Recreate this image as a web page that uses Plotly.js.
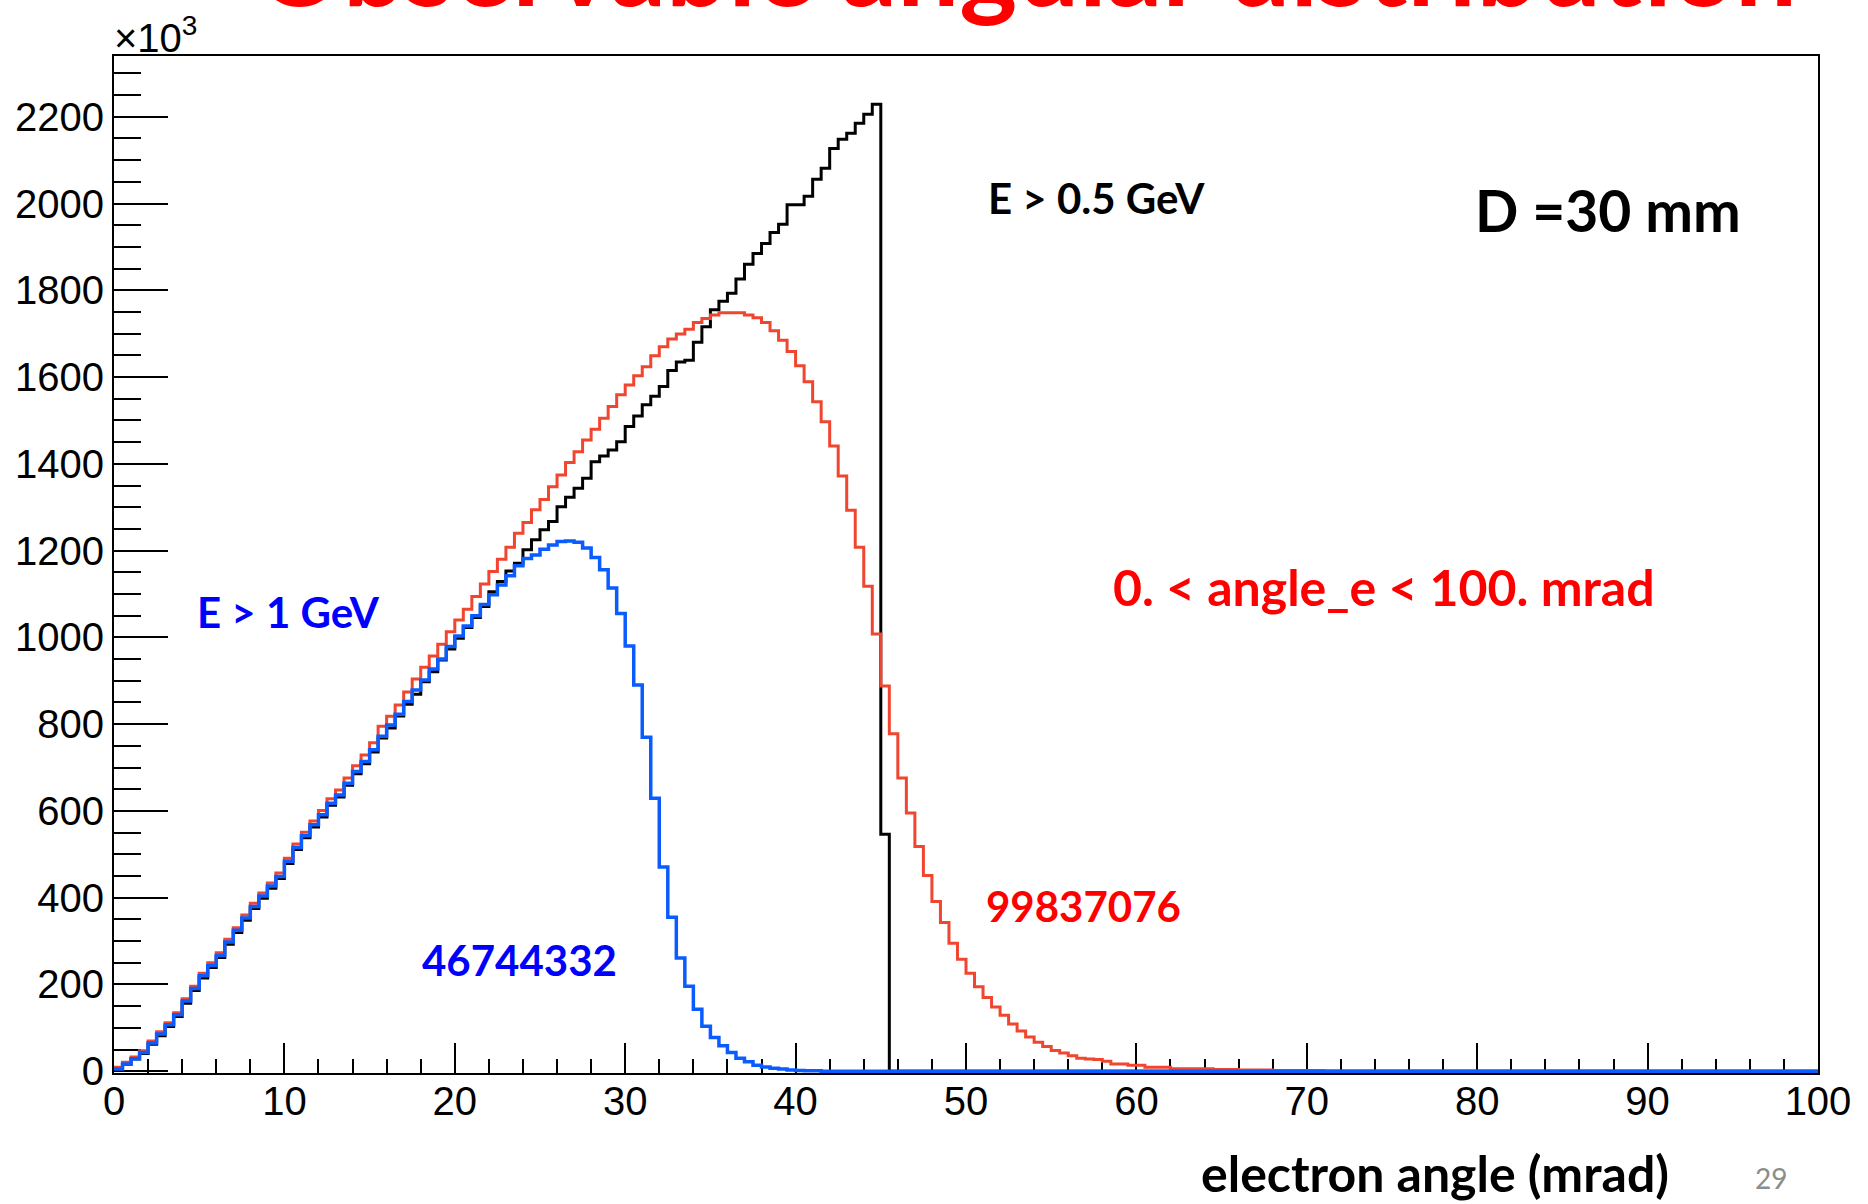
<!DOCTYPE html>
<html>
<head>
<meta charset="utf-8">
<script src="https://cdn.plot.ly/plotly-3.0.1.min.js"></script>
<style>
html,body{margin:0;padding:0;background:#fff;}
#chart{width:1868px;height:1204px;}
</style>
</head>
<body>
<div id="chart"></div>
<script>
// Histogram: 200 bins of 0.5 mrad from 0 to 100 mrad; counts in units of 10^3
const binWidth = 0.5;
const xMin = 0;

// E > 0.5 GeV (black)
const countsE05 = [
5,16,28,41,62,82,103,126,157,186,
215,239,262,293,320,348,375,399,422,444,
479,511,538,563,586,613,632,659,686,709,
736,768,791,819,846,869,898,921,948,973,
998,1023,1046,1071,1105,1129,1153,1171,1202,1225,
1248,1267,1301,1323,1344,1367,1405,1418,1432,1451,
1486,1510,1536,1556,1578,1615,1635,1639,1680,1716,
1755,1775,1793,1826,1860,1885,1908,1933,1952,1997,
1997,2017,2056,2081,2127,2148,2162,2185,2206,2229,
546,0,0,0,0,0,0,0,0,0,
0,0,0,0,0,0,0,0,0,0,
0,0,0,0,0,0,0,0,0,0,
0,0,0,0,0,0,0,0,0,0,
0,0,0,0,0,0,0,0,0,0,
0,0,0,0,0,0,0,0,0,0,
0,0,0,0,0,0,0,0,0,0,
0,0,0,0,0,0,0,0,0,0,
0,0,0,0,0,0,0,0,0,0,
0,0,0,0,0,0,0,0,0,0,
0,0,0,0,0,0,0,0,0,0
];

// 0 < angle_e < 100 mrad (red)
const countsAll = [
9,21,33,47,70,91,112,135,167,196,
226,250,273,304,331,360,387,411,434,457,
491,524,551,577,601,628,648,676,704,729,
757,795,818,844,874,904,931,957,984,1013,
1040,1065,1094,1123,1152,1180,1208,1240,1265,1294,
1318,1347,1374,1403,1428,1455,1480,1505,1532,1559,
1582,1603,1624,1649,1670,1688,1699,1710,1726,1735,
1743,1748,1748,1748,1743,1737,1726,1707,1685,1659,
1626,1589,1543,1497,1441,1372,1293,1208,1118,1008,
888,778,676,595,518,451,391,343,295,258,
226,195,170,148,129,109,93,79,67,57,
48,42,36,30,28,27,23,17,17,14,
14,9,9,9,6,6,6,6,6,4,
4,4,3,3,3,3,2,2,2,2,
2,2,0,0,0,0,0,0,0,0,
0,0,0,0,0,0,0,0,0,0,
0,0,0,0,0,0,0,0,0,0,
0,0,0,0,0,0,0,0,0,0,
0,0,0,0,0,0,0,0,0,0,
0,0,0,0,0,0,0,0,0,0
];

// E > 1 GeV (blue)
const countsE1 = [
5,17,29,43,65,86,107,130,162,191,
220,244,267,298,325,353,380,404,427,449,
484,516,543,568,591,618,637,664,691,714,
741,772,798,823,852,879,902,927,950,979,
1003,1026,1050,1076,1098,1121,1142,1165,1182,1190,
1203,1213,1221,1222,1219,1206,1184,1156,1114,1055,
980,890,770,629,471,355,261,196,143,104,
78,59,43,30,22,14,10,7,5,3,
2,1,1,0,0,0,0,0,0,0,
0,0,0,0,0,0,0,0,0,0,
0,0,0,0,0,0,0,0,0,0,
0,0,0,0,0,0,0,0,0,0,
0,0,0,0,0,0,0,0,0,0,
0,0,0,0,0,0,0,0,0,0,
0,0,0,0,0,0,0,0,0,0,
0,0,0,0,0,0,0,0,0,0,
0,0,0,0,0,0,0,0,0,0,
0,0,0,0,0,0,0,0,0,0,
0,0,0,0,0,0,0,0,0,0,
0,0,0,0,0,0,0,0,0,0
];

const xTickVals = [0,10,20,30,40,50,60,70,80,90,100];
const xTickText = ["0","10","20","30","40","50","60","70","80","90","100"];
const yTickVals = [0,200,400,600,800,1000,1200,1400,1600,1800,2000,2200];
const yTickText = ["0","200","400","600","800","1000","1200","1400","1600","1800","2000","2200"];

function stepTrace(counts, color, width, name) {
  const xs = [], ys = [];
  for (let i = 0; i < counts.length; i++) { xs.push(xMin + i * binWidth); ys.push(counts[i]); }
  xs.push(xMin + counts.length * binWidth); ys.push(counts[counts.length - 1]);
  return {type:'scatter', mode:'lines', x:xs, y:ys, name:name,
          line:{shape:'hv', color:color, width:width}, hoverinfo:'skip'};
}

const data = [
  stepTrace(countsE05, '#000000', 3, 'E > 0.5 GeV'),
  stepTrace(countsAll, '#F0452F', 3, '0. < angle_e < 100. mrad'),
  stepTrace(countsE1, '#0A5CFF', 3.5, 'E > 1 GeV')
];

const lbl = 'Lato, "Open Sans", sans-serif';
const layout = {
  width:1868, height:1204,
  paper_bgcolor:'#ffffff', plot_bgcolor:'#ffffff',
  margin:{l:114, r:50, t:56, b:131, pad:0},
  showlegend:false,
  xaxis:{range:[0,100], tickmode:'array', tickvals:xTickVals, ticktext:xTickText,
         ticks:'inside', ticklen:30, tickwidth:2, tickcolor:'#000',
         minor:{dtick:2, tick0:0, ticks:'inside', ticklen:14, tickwidth:2, tickcolor:'#000', showgrid:false},
         showline:true, linecolor:'#000', linewidth:2, mirror:true,
         showgrid:false, zeroline:false, layer:'below traces',
         ticklabelstandoff:-8,
         tickfont:{family:'"Liberation Sans", Arial, sans-serif', size:40, color:'#000'}},
  yaxis:{range:[-4,2340], tickmode:'array', tickvals:yTickVals, ticktext:yTickText,
         ticks:'inside', ticklen:54, tickwidth:2, tickcolor:'#000',
         minor:{dtick:50, tick0:0, ticks:'inside', ticklen:27, tickwidth:2, tickcolor:'#000', showgrid:false},
         showline:true, linecolor:'#000', linewidth:2, mirror:true,
         showgrid:false, zeroline:false, layer:'below traces',
         tickfont:{family:'"Liberation Sans", Arial, sans-serif', size:40, color:'#000'}},
  annotations:[
    {text:'<b>Observable angular distribution</b>', xref:'paper', yref:'paper', x:0.0815, y:1.091,
     xanchor:'left', yanchor:'middle', showarrow:false,
     font:{family:lbl, size:110, color:'#FF0000'}},
    {text:'×10<sup>3</sup>', xref:'paper', yref:'paper', x:-0.001, y:1.021,
     xanchor:'left', yanchor:'middle', showarrow:false,
     font:{family:'"Liberation Sans", Arial, sans-serif', size:40, color:'#000'}},
    {text:'<b>E > 0.5 GeV</b>', x:51.2, y:2013, xanchor:'left', yanchor:'middle', showarrow:false,
     font:{family:lbl, size:42, color:'#000'}},
    {text:'<b>D =30 mm</b>', x:79.75, y:1985, xanchor:'left', yanchor:'middle', showarrow:false,
     font:{family:lbl, size:57, color:'#000'}},
    {text:'<b>0. < angle_e < 100. mrad</b>', x:58.5, y:1116, xanchor:'left', yanchor:'middle', showarrow:false,
     font:{family:lbl, size:50, color:'#FF0000'}},
    {text:'<b>E > 1 GeV</b>', x:4.75, y:1059, xanchor:'left', yanchor:'middle', showarrow:false,
     font:{family:lbl, size:42, color:'#0000FF'}},
    {text:'<b>46744332</b>', x:17.95, y:257, xanchor:'left', yanchor:'middle', showarrow:false,
     font:{family:lbl, size:42, color:'#0000FF'}},
    {text:'<b>99837076</b>', x:51.05, y:381, xanchor:'left', yanchor:'middle', showarrow:false,
     font:{family:lbl, size:42, color:'#FF0000'}},
    {text:'<b>electron angle (mrad)</b>', xref:'paper', yref:'paper', x:0.637, y:-0.0985,
     xanchor:'left', yanchor:'middle', showarrow:false,
     font:{family:lbl, size:50, color:'#000'}},
    {text:'29', xref:'paper', yref:'paper', x:0.962, y:-0.103,
     xanchor:'left', yanchor:'middle', showarrow:false,
     font:{family:lbl, size:28, color:'#8C8C8C'}}
  ]
};

Plotly.newPlot('chart', data, layout, {staticPlot:true, displayModeBar:false});
</script>
</body>
</html>
